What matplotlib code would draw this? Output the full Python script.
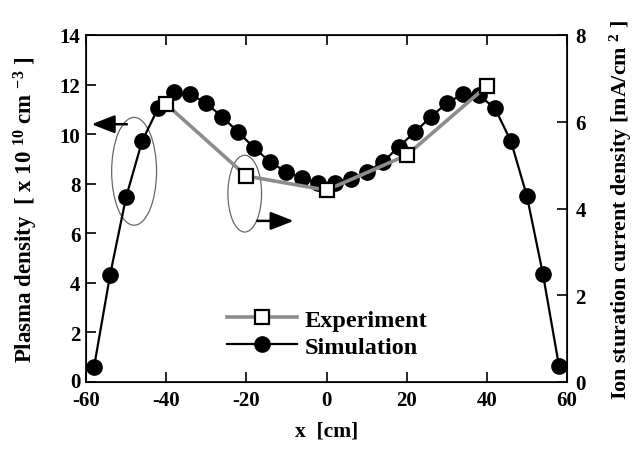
import matplotlib
matplotlib.use("Agg")
import matplotlib.pyplot as plt
import matplotlib.transforms as mtransforms
from matplotlib.patches import Ellipse

plt.rcParams['font.family'] = ['Liberation Serif', 'DejaVu Serif']
plt.rcParams['font.weight'] = 'bold'
plt.rcParams['mathtext.fontset'] = 'custom'
plt.rcParams['mathtext.rm'] = 'Liberation Serif:bold'
plt.rcParams['mathtext.bf'] = 'Liberation Serif:bold'
plt.rcParams['mathtext.it'] = 'Liberation Serif:bold'

# Data
sim_x = [-58, -54, -50, -46, -42, -38, -34, -30, -26, -22, -18, -14, -10, -6, -2,
         2, 6, 10, 14, 18, 22, 26, 30, 34, 38, 42, 46, 50, 54, 58]
sim_y = [0.60, 4.31, 7.46, 9.72, 11.05, 11.69, 11.61, 11.25, 10.69, 10.08, 9.44, 8.87,
         8.47, 8.23, 8.02, 8.02, 8.19, 8.47, 8.87, 9.48, 10.08, 10.69, 11.25, 11.61,
         11.57, 11.05, 9.72, 7.50, 4.35, 0.65]
exp_x = [-40, -20, 0, 20, 40]
exp_y = [11.21, 8.31, 7.74, 9.15, 11.94]

left_ticks = [0, 2, 4, 6, 8, 10, 12, 14]
right_ticks = [0, 2, 4, 6, 8]
x_ticks = [-60, -40, -20, 0, 20, 40, 60]

fig = plt.figure(figsize=(6.4, 4.52), dpi=100)
ax = fig.add_axes([86/640, 1-383/452, (567-86)/640, (383-36)/452])

ax.plot(sim_x, sim_y, '-o', color='black', lw=1.6, ms=11, mfc='black', mec='black',
        label='Simulation', zorder=3)
ax.plot(exp_x, exp_y, '-s', color='#8c8c8c', lw=2.6, ms=9.5, mfc='white', mec='black',
        mew=1.6, label='Experiment', zorder=4)

ax.set_xlim(-60, 60)
ax.set_ylim(0, 14)
ax.set_xticks(x_ticks)
ax.set_xticklabels([str(v) for v in x_ticks])
ax.set_yticks(left_ticks)
ax.set_yticklabels([str(v) for v in left_ticks])
ax.tick_params(direction='in', length=7, width=1.2, labelsize=15, top=True, pad=4)
ax.tick_params(axis='x', pad=6)
for s in ax.spines.values():
    s.set_linewidth(1.2)

# nudge the bottom-left "0" label up a little so it does not touch "-60"
lbl0 = ax.get_yticklabels()[0]
lbl0.set_transform(lbl0.get_transform() +
                   mtransforms.ScaledTranslation(0, 3/100, fig.dpi_scale_trans))

ax2 = ax.twinx()
ax2.set_ylim(0, 8)
ax2.set_yticks(right_ticks)
ax2.tick_params(direction='in', length=7, width=1.2, labelsize=15, pad=6)

ax.set_xlabel('x  [cm]', fontsize=15.5, fontweight='bold', labelpad=7)
ax.set_ylabel(r'Plasma density  [ x 10 $^{10}$ cm $^{-3}$ ]', fontsize=16.5,
              fontweight='bold', labelpad=14)
ax2.set_ylabel(r'Ion sturation current density [mA/cm $^{2}$ ]', fontsize=15.8,
               fontweight='bold', labelpad=16)

# Annotation ellipses and arrows
ax.add_patch(Ellipse((-48.0, 8.5), 11.2, 4.35, fill=False, ec='#666666', lw=0.9, zorder=2))
ax.add_patch(Ellipse((-20.4, 7.6), 8.4, 3.1, fill=False, ec='#666666', lw=0.9, zorder=2))
ax.annotate('', xy=(-58.6, 10.4), xytext=(-49.8, 10.4),
            arrowprops=dict(arrowstyle='-|>,head_length=1.4,head_width=0.55',
                            color='black', lw=1.8, shrinkA=0, shrinkB=0))
ax.annotate('', xy=(-8.2, 6.5), xytext=(-17.3, 6.5),
            arrowprops=dict(arrowstyle='-|>,head_length=1.4,head_width=0.55',
                            color='black', lw=1.8, shrinkA=0, shrinkB=0))

h, l = ax.get_legend_handles_labels()
ax.legend(h[::-1], l[::-1], loc='upper left', bbox_to_anchor=(0.257, 0.26),
          frameon=False, fontsize=17.5, handlelength=2.9, handletextpad=0.3,
          labelspacing=0.2, borderpad=0.2)

fig.savefig('out.png', dpi=100)
